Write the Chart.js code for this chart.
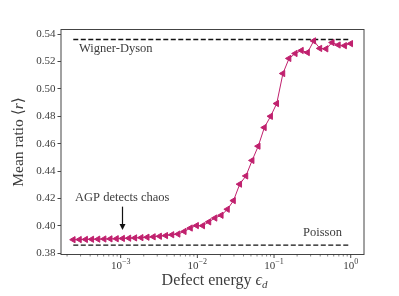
<!DOCTYPE html>
<html>
<head>
<meta charset="utf-8">
<script src="https://cdn.jsdelivr.net/npm/chart.js@4.4.1/dist/chart.umd.min.js"></script>
<style>
  html, body { margin: 0; padding: 0; background: #fff; }
</style>
</head>
<body>
<canvas id="myChart" width="399" height="296"></canvas>
<script>
// defect energy (x) and mean level spacing ratio (y)
const epsilonD = [
  2.41e-4, 2.90e-4, 3.49e-4, 4.20e-4, 5.06e-4, 6.08e-4, 7.31e-4, 8.81e-4,
  1.06e-3, 1.28e-3, 1.53e-3, 1.85e-3, 2.22e-3, 2.67e-3, 3.22e-3, 3.87e-3,
  4.66e-3, 5.61e-3, 6.75e-3, 8.13e-3, 9.77e-3, 1.175e-2, 1.416e-2, 1.70e-2,
  2.05e-2, 2.47e-2, 2.96e-2, 3.57e-2, 4.30e-2, 5.18e-2, 6.22e-2, 7.48e-2,
  9.02e-2, 0.1084, 0.1306, 0.157, 0.189, 0.2275, 0.2735, 0.3296,
  0.3963, 0.4766, 0.574, 0.690, 0.832, 1.0
]
const meanRatio = [
  0.3900, 0.3901, 0.3902, 0.3903, 0.3904, 0.3905, 0.3906, 0.3907,
  0.3909, 0.3911, 0.3913, 0.3915, 0.3918, 0.3921, 0.3925, 0.3930,
  0.3936, 0.3941, 0.3960, 0.3985, 0.4003, 0.4002, 0.4030, 0.4058,
  0.4078, 0.4122, 0.4185, 0.4305, 0.4365, 0.4478, 0.4582, 0.4718,
  0.4800, 0.4893, 0.5112, 0.5222, 0.5258, 0.5280, 0.5265, 0.5350,
  0.5295, 0.5292, 0.5338, 0.5320, 0.5315, 0.5330
]
const wignerDyson = 0.536
const poisson = 0.386

const yTickValues = [0.38, 0.40, 0.42, 0.44, 0.46, 0.48, 0.50, 0.52, 0.54]
const xMajorTicks = [1e-3, 1e-2, 1e-1, 1]
const xMinorTicks = [
  2e-4, 3e-4, 4e-4, 5e-4, 6e-4, 7e-4, 8e-4, 9e-4,
  2e-3, 3e-3, 4e-3, 5e-3, 6e-3, 7e-3, 8e-3, 9e-3,
  2e-2, 3e-2, 4e-2, 5e-2, 6e-2, 7e-2, 8e-2, 9e-2,
  0.2, 0.3, 0.4, 0.5, 0.6, 0.7, 0.8, 0.9
]

const SERIF = '"Liberation Serif", "DejaVu Serif", serif'
const TXT = '#3c3c3c'
const MAGENTA = '#c0216e'

// draw text made of several runs (font / vertical shift)
function drawRuns(ctx, runs, x, y, align) {
  let total = 0
  runs.forEach(r => { ctx.font = r.font; r.w = ctx.measureText(r.text).width; total += r.w })
  let cx = align === 'center' ? x - total / 2 : (align === 'right' ? x - total : x)
  ctx.textAlign = 'left'
  ctx.textBaseline = 'alphabetic'
  runs.forEach(r => {
    ctx.font = r.font
    ctx.fillText(r.text, cx, y + (r.dy || 0))
    cx += r.w
  })
}

const decorPlugin = {
  id: 'decor',
  afterDatasetsDraw(chart) {
    const ctx = chart.ctx
    const xs = chart.scales.x
    const ys = chart.scales.y
    ctx.save()
    ctx.fillStyle = TXT
    ctx.font = '12.5px ' + SERIF
    ctx.textBaseline = 'alphabetic'
    ctx.textAlign = 'left'
    ctx.fillText('Wigner-Dyson', 79, 52)
    ctx.fillText('Poisson', 303, 236)
    ctx.fillText('AGP detects chaos', 75, 200.5)

    // arrow pointing at eps_d = 1e-3
    const ax = Math.round(xs.getPixelForValue(1.03e-3)) + 0.5
    const y0 = ys.getPixelForValue(0.4141)
    const y1 = ys.getPixelForValue(0.3971)
    ctx.strokeStyle = '#111'
    ctx.fillStyle = '#111'
    ctx.lineWidth = 1.2
    ctx.beginPath()
    ctx.moveTo(ax, y0)
    ctx.lineTo(ax, y1 - 5)
    ctx.stroke()
    ctx.beginPath()
    ctx.moveTo(ax - 3, y1 - 6)
    ctx.lineTo(ax + 3, y1 - 6)
    ctx.lineTo(ax, y1)
    ctx.closePath()
    ctx.fill()
    ctx.restore()
  },
  afterDraw(chart) {
    const ctx = chart.ctx
    const a = chart.chartArea
    const xs = chart.scales.x
    ctx.save()
    // frame
    ctx.strokeStyle = '#444'
    ctx.lineWidth = 1
    ctx.strokeRect(a.left, a.top, a.right - a.left, a.bottom - a.top)

    // x ticks
    ctx.strokeStyle = '#333'
    xMinorTicks.forEach(v => {
      const px = xs.getPixelForValue(v)
      ctx.lineWidth = 0.6
      ctx.beginPath(); ctx.moveTo(px, a.bottom); ctx.lineTo(px, a.bottom + 2); ctx.stroke()
    })
    ctx.fillStyle = TXT
    xMajorTicks.forEach(v => {
      const px = xs.getPixelForValue(v)
      ctx.lineWidth = 0.9
      ctx.beginPath(); ctx.moveTo(px, a.bottom); ctx.lineTo(px, a.bottom + 3.5); ctx.stroke()
      const e = Math.round(Math.log10(v))
      const exp = e < 0 ? '\u2212' + (-e) : String(e)
      drawRuns(ctx, [
        { text: '10', font: '11px ' + SERIF },
        { text: exp, font: '8px ' + SERIF, dy: -5 }
      ], px, 269, 'center')
    })

    // axis titles
    ctx.fillStyle = TXT
    drawRuns(ctx, [
      { text: 'Defect energy ', font: '16px ' + SERIF },
      { text: '\u03f5', font: 'italic 16px ' + SERIF },
      { text: 'd', font: 'italic 11px ' + SERIF, dy: 3 }
    ], (a.left + a.right) / 2 + 2, 284.5, 'center')

    ctx.translate(23, (a.top + a.bottom) / 2)
    ctx.rotate(-Math.PI / 2)
    drawRuns(ctx, [
      { text: 'Mean ratio \u27e8', font: '15.5px ' + SERIF },
      { text: 'r', font: 'italic 15.5px ' + SERIF },
      { text: '\u27e9', font: '15.5px ' + SERIF }
    ], 0, 0, 'center')
    ctx.restore()
  }
}

const ctx = document.getElementById('myChart')
const myChart = new Chart(ctx, {
  type: 'scatter',
  data: {
    datasets: [
      {
        data: epsilonD.map((x, i) => ({ x: x, y: meanRatio[i] })),
        showLine: true,
        borderColor: MAGENTA,
        backgroundColor: MAGENTA,
        borderWidth: 1,
        pointStyle: 'triangle',
        rotation: -90,
        pointRadius: 3.6,
        pointBorderWidth: 1
      },
      {
        data: [{ x: epsilonD[0], y: wignerDyson }, { x: epsilonD[epsilonD.length - 1], y: wignerDyson }],
        showLine: true,
        borderColor: '#111',
        borderWidth: 1.3,
        borderDash: [5, 2.5],
        pointRadius: 0
      },
      {
        data: [{ x: epsilonD[0], y: poisson }, { x: epsilonD[epsilonD.length - 1], y: poisson }],
        showLine: true,
        borderColor: '#111',
        borderWidth: 1.3,
        borderDash: [5, 2.5],
        pointRadius: 0
      }
    ]
  },
  options: {
    responsive: false,
    animation: false,
    devicePixelRatio: 1,
    layout: { padding: { top: 29.5, right: 35, left: 0, bottom: 0 } },
    plugins: {
      legend: { display: false },
      tooltip: { enabled: false }
    },
    scales: {
      x: {
        type: 'logarithmic',
        min: 1.667e-4,
        max: 1.49,
        grid: { display: false },
        border: { display: false },
        ticks: { display: false },
        afterBuildTicks: s => { s.ticks = xMajorTicks.map(v => ({ value: v })) },
        afterFit: s => { s.height = 41.5 }
      },
      y: {
        min: 0.3792,
        max: 0.5433,
        grid: { drawOnChartArea: false, drawTicks: true, tickLength: 3.5, tickColor: '#333', tickWidth: 0.9 },
        border: { display: false },
        ticks: {
          padding: 2,
          color: TXT,
          font: { family: SERIF, size: 11 },
          callback: v => v.toFixed(2)
        },
        afterBuildTicks: s => { s.ticks = yTickValues.map(v => ({ value: v })) },
        afterFit: s => { s.width = 61 }
      }
    }
  },
  plugins: [decorPlugin]
})
</script>
</body>
</html>
